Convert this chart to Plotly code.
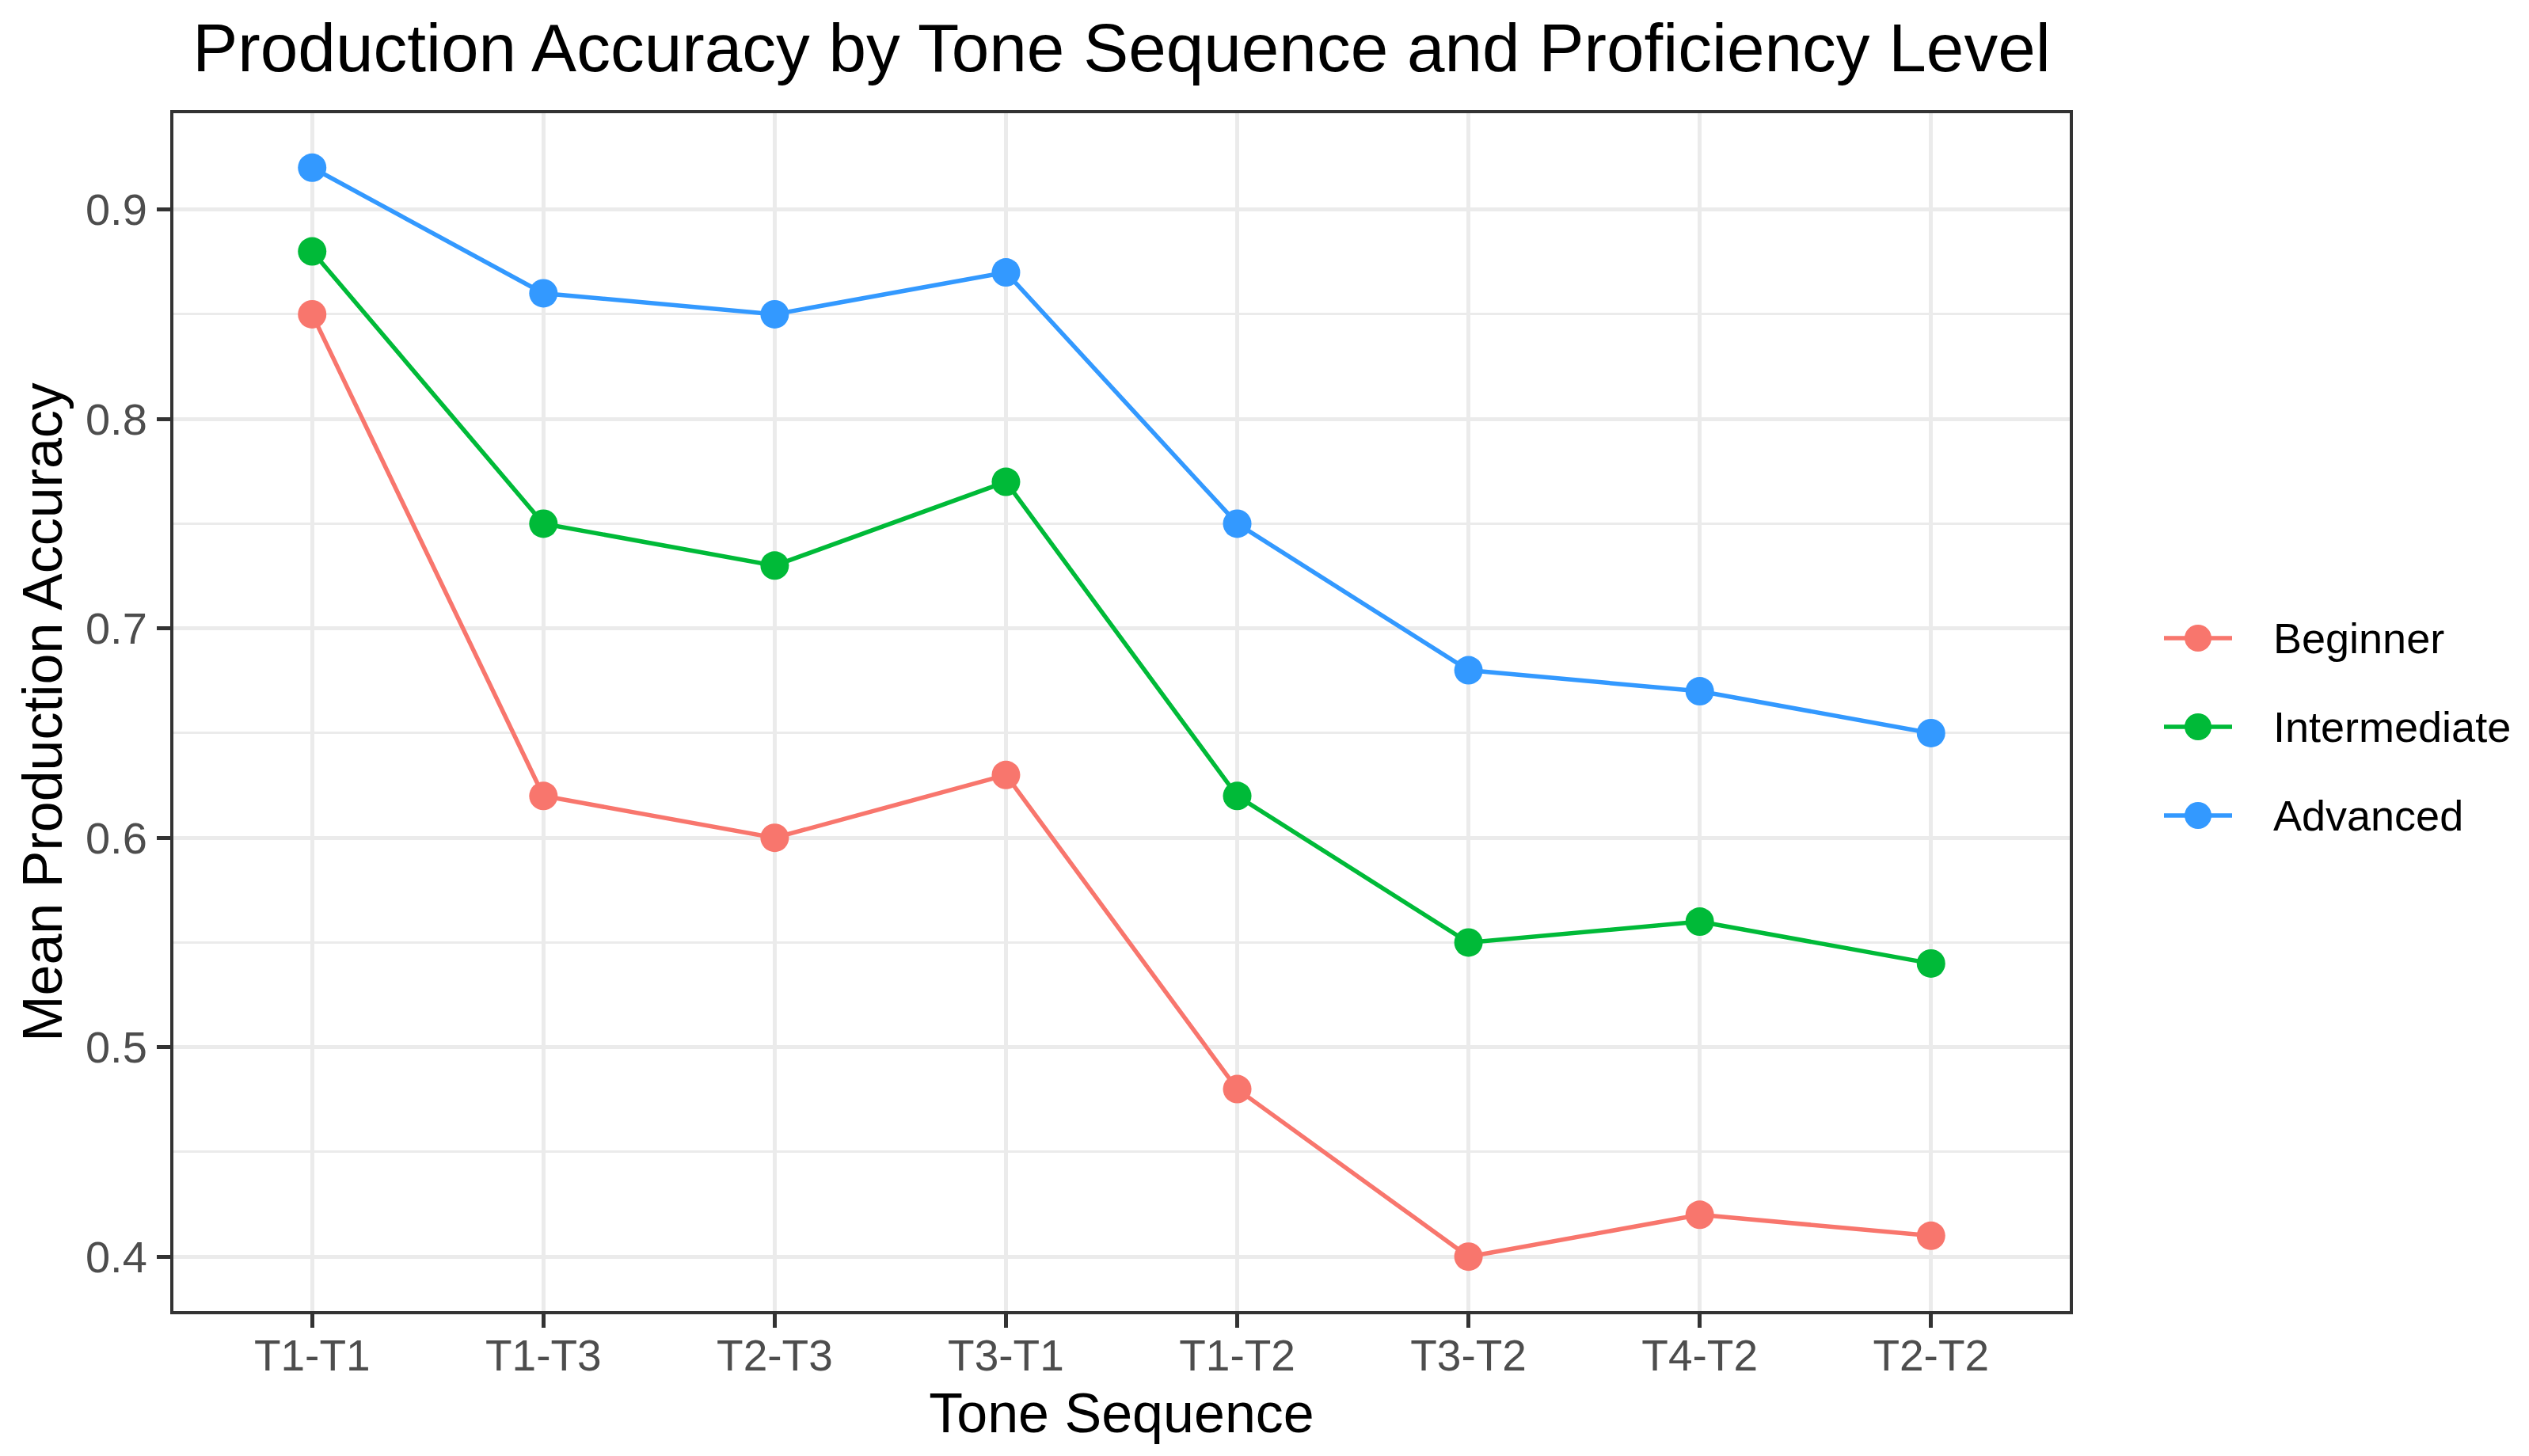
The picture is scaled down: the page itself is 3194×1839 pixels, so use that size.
import plotly.graph_objects as go

sequences = ["T1-T1", "T1-T3", "T2-T3", "T3-T1", "T1-T2", "T3-T2", "T4-T2", "T2-T2"]
levels = ["Beginner", "Intermediate", "Advanced"]
beginner = [0.85, 0.62, 0.60, 0.63, 0.48, 0.40, 0.42, 0.41]
intermediate = [0.88, 0.75, 0.73, 0.77, 0.62, 0.55, 0.56, 0.54]
advanced = [0.92, 0.86, 0.85, 0.87, 0.75, 0.68, 0.67, 0.65]
colors = ["#F8766D", "#00BA38", "#3399FF"]
y_ticks = [0.4, 0.5, 0.6, 0.7, 0.8, 0.9]

W, H = 3194, 1839
L, R, T, B = 219, 2614, 143, 1656
FONT = "Liberation Sans, Arial, sans-serif"

fig = go.Figure()
for name, vals, col in zip(levels, [beginner, intermediate, advanced], colors):
    fig.add_trace(go.Scatter(
        x=sequences, y=vals, mode="lines+markers", name=name,
        line=dict(color=col, width=5.5),
        marker=dict(color=col, size=36),
        showlegend=False,
    ))

# manual legend (ggplot style)
pw, ph = R - L, B - T
def px(x):
    return (x - L) / pw
def py(y):
    return (B - y) / ph

legend_y = [806, 918, 1030]
for name, col, yy in zip(levels, colors, legend_y):
    fig.add_shape(type="line", xref="paper", yref="paper",
                  x0=px(2733), x1=px(2819), y0=py(yy), y1=py(yy),
                  line=dict(color=col, width=5.5))
    fig.add_shape(type="circle", xref="paper", yref="paper",
                  x0=px(2776 - 17), x1=px(2776 + 17), y0=py(yy - 17), y1=py(yy + 17),
                  fillcolor=col, line=dict(color=col, width=0))
    fig.add_annotation(xref="paper", yref="paper", x=px(2869), y=py(yy),
                       text=name, showarrow=False, xanchor="left", yanchor="middle",
                       font=dict(family=FONT, size=54, color="black"))

fig.update_layout(
    width=W, height=H,
    margin=dict(l=L, r=W - R, t=T, b=H - B, pad=0),
    paper_bgcolor="white", plot_bgcolor="white",
    font=dict(family=FONT),
    title=dict(text="Production Accuracy by Tone Sequence and Proficiency Level",
               x=(L + R) / 2 / W, xanchor="center", y=1 - 60 / H, yanchor="middle",
               font=dict(family=FONT, size=85.5, color="black")),
)

fig.update_xaxes(
    type="category", categoryorder="array", categoryarray=sequences,
    range=[-0.6, len(sequences) - 0.4],
    showgrid=True, gridcolor="#EBEBEB", gridwidth=5,
    showline=True, linecolor="#333333", linewidth=4, mirror=True,
    ticks="outside", ticklen=17, tickwidth=5, tickcolor="#333333",
    ticklabelstandoff=-12,
    tickfont=dict(family=FONT, size=55, color="#4D4D4D"),
    title=dict(text="Tone Sequence", font=dict(family=FONT, size=70, color="black"), standoff=19),
    zeroline=False,
)
fig.update_yaxes(
    range=[0.374, 0.946], tickvals=y_ticks, ticktext=[str(v) for v in y_ticks],
    showgrid=True, gridcolor="#EBEBEB", gridwidth=5,
    minor=dict(dtick=0.05, tick0=0.35, showgrid=True, gridcolor="#EBEBEB", gridwidth=3, ticks=""),
    showline=True, linecolor="#333333", linewidth=4, mirror=True,
    ticks="outside", ticklen=17, tickwidth=5, tickcolor="#333333",
    ticklabelstandoff=1,
    tickfont=dict(family=FONT, size=56, color="#4D4D4D"),
    title=dict(text="Mean Production Accuracy", font=dict(family=FONT, size=70, color="black"), standoff=7),
    zeroline=False,
)

fig.write_html("out.html", config={"displayModeBar": False},
               post_script="document.body.style.margin='0';")
